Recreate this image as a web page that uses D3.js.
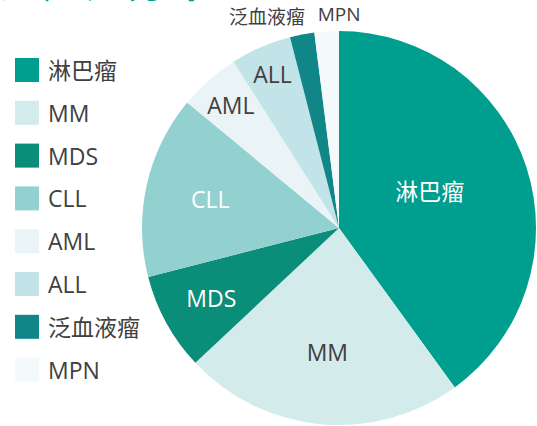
<!DOCTYPE html>
<html>
<head>
<meta charset="utf-8">
<script src="https://cdn.jsdelivr.net/npm/d3@7"></script>
<style>
  html, body { margin: 0; padding: 0; background: #ffffff; }
  svg { display: block; }
</style>
</head>
<body>
<div id="chart"></div>
<script>
// data (share of total, %)
const categories = ["淋巴瘤", "MM", "MDS", "CLL", "AML", "ALL", "泛血液瘤", "MPN"];
const values = [40, 23, 8, 15, 5, 5, 2, 2];
const titleText = "适应症分布";

// styles
const sliceColors = ["#009e8e", "#d3ebeb", "#0a8d79", "#93d1d1", "#eaf4f6", "#c2e3e7", "#118688", "#f4f9fc"];
const labelColors = ["#ffffff", "#404040", "#ffffff", "#ffffff", "#404040", "#404040", "#404040", "#404040"];
// radial position of each label as fraction of radius (>1 means outside)
const labelRadius = [0.5, 0.63, 0.74, 0.67, 0.83, 0.85, 1.08, 1.08];
const labelAnchor = ["middle", "middle", "middle", "middle", "middle", "middle", "end", "start"];
const labelDx = [-3, 0, 0, 0, 0, 0, 6, -8];
const labelDy = [-7, 0, 0, 0, 0, 0, -2, -2];

const width = 537, height = 426;
const cx = 339, cy = 228, radius = 197;
const textColor = "#404040";
const fontFamily = "'Open Sans', 'Noto Sans CJK SC', sans-serif";

const svg = d3.select("#chart").append("svg")
    .attr("width", width)
    .attr("height", height);

// title, mostly cut off above the top edge
svg.append("text")
    .attr("x", 0)
    .attr("y", -3)
    .style("font-family", "'Noto Sans CJK SC', sans-serif")
    .style("font-size", "42px")
    .style("font-weight", "bold")
    .style("fill", "#00a08f")
    .text(titleText);

const rows = categories.map((c, i) => ({ name: c, value: values[i], idx: i }));

const pie = d3.pie().sort(null).value(d => d.value);
const arcs = pie(rows);
const arc = d3.arc().innerRadius(0).outerRadius(radius);

const g = svg.append("g").attr("transform", `translate(${cx},${cy})`);

g.selectAll("path.slice")
    .data(arcs)
    .enter()
    .append("path")
    .attr("class", "slice")
    .attr("d", arc)
    .attr("fill", d => sliceColors[d.data.idx]);

g.selectAll("text.slice-label")
    .data(arcs)
    .enter()
    .append("text")
    .attr("class", "slice-label")
    .attr("transform", d => {
        const r = radius * labelRadius[d.data.idx];
        const a = (d.startAngle + d.endAngle) / 2;
        return `translate(${Math.sin(a) * r + labelDx[d.data.idx]},${-Math.cos(a) * r + labelDy[d.data.idx]})`;
    })
    .attr("text-anchor", d => labelAnchor[d.data.idx])
    .attr("dominant-baseline", "central")
    .style("font-family", fontFamily)
    .style("font-size", d => labelRadius[d.data.idx] > 1 ? "19px" : "23px")
    .style("fill", d => labelColors[d.data.idx])
    .text(d => d.data.name);

// legend
const legend = svg.append("g").attr("transform", "translate(15,58)");
const step = 42.8;
const items = legend.selectAll("g.item")
    .data(rows)
    .enter()
    .append("g")
    .attr("class", "item")
    .attr("transform", (d, i) => `translate(0,${i * step})`);

items.append("rect")
    .attr("width", 24)
    .attr("height", 24)
    .attr("fill", d => sliceColors[d.idx]);

items.append("text")
    .attr("x", 33)
    .attr("y", 12)
    .attr("dominant-baseline", "central")
    .style("font-family", fontFamily)
    .style("font-size", "23px")
    .style("fill", textColor)
    .text(d => d.name);
</script>
</body>
</html>
